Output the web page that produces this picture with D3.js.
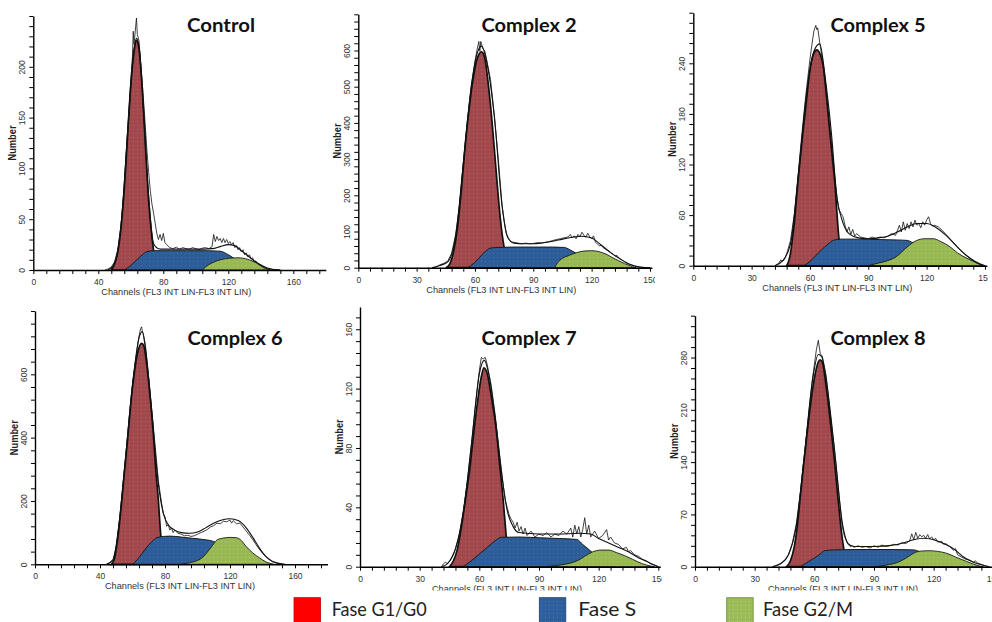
<!DOCTYPE html>
<html><head><meta charset="utf-8">
<script src="https://cdn.jsdelivr.net/npm/d3@7"></script>
<style>body{margin:0;background:#fff} svg{display:block}</style>
</head><body><svg id="c" width="992" height="622"></svg>
<script>
// ---------------- DATA ----------------
const titles = ["Control", "Complex 2", "Complex 5", "Complex 6", "Complex 7", "Complex 8"];
const legendLabels = ["Fase G1/G0", "Fase S", "Fase G2/M"];
const xAxisLabel = "Channels (FL3 INT LIN-FL3 INT LIN)";
const yAxisLabel = "Number";

const xMajorTicks = [[0,40,80,120,160],[0,30,60,90,120,150],[0,30,60,90,120,150],[0,40,80,120,160],[0,30,60,90,120,150],[0,30,60,90,120,150]];
const yMajorTicks = [[0,50,100,150,200],[0,100,200,300,400,500,600],[0,60,120,180,240],[0,200,400,600],[0,40,80,120,160],[0,70,140,210,280]];
const xMinorStep = [8,6,6,8,6,6];
const yMinorStep = [10,20,12,40,8,14];
const xMax = [180,151,151,180,151,152];
const yMax = [250,700,300,800,175,336];

// Control  [channel, count]
const ctrlG1 = [[48,0],[50,6],[52,18],[54,42],[56,80],[58,132],[60,182],[62,215],[63.5,226],[65,218],[67,180],[69,122],[71,68],[73,32],[75,10],[77,0]];
const ctrlS  = [[56,0],[58,2],[61,6],[64,10.5],[67,15],[70,18],[74,19],[85,19],[95,19],[105,19],[115,18.5],[120,15],[123,12],[126,9.5],[130,6],[135,2],[140,0]];
const ctrlG2 = [[104,0],[106,3],[110,7],[115,10],[120,11.5],[126,12],[132,10.5],[136,8],[140,5],[144,1],[146,0]];
const ctrlRaw = [[44,0],[46,1],[48,3],[50,8],[52,20],[54,44],[56,82],[58,135],[60,186],[61,210],[61.5,235],[62,222],[63,240],[63.5,248],[64,232],[65,226],[66,205],[67,185],[68,163],[69,140],[70,116],[71,96],[72,78],[73,65],[74,56],[75,46],[76,36],[77,30],[78,35],[79,29],[80,36],[81,27],[82,25],[84,22],[86,21],[88,22.5],[90,20.5],[92,22],[94,21],[96,20.5],[98,22],[100,21],[102,20],[104,21.5],[106,22],[108,21],[110,23],[111,35],[112,28],[113,33],[114,29],[115,31],[116,27],[117,31],[118,27],[119,30],[120,26],[121,28],[122,25],[123,27],[124,22],[125,24],[126,20],[127,22],[128,18],[129,20],[130,15],[131,17],[132,13],[133,15],[134,11],[135,12],[136,8],[137,9],[138,6],[140,4],[142,2],[144,1],[148,0.5],[152,0]];
const ctrlFit = [[46,0],[50,6],[54,44],[58,134],[62,218],[63.5,228],[65,221],[68,152],[71,72],[74,26],[77,21],[80,20.5],[90,20.5],[100,20.5],[110,21],[115,23],[120,25],[124,24],[128,19],[132,14],[136,9],[140,5],[144,2],[148,0.5],[152,0]];

// Complex 2
const c2G1 = [[45,0],[47,10],[49,45],[51,110],[53,215],[55,340],[57,440],[59,520],[61,575],[63.4,596],[65,580],[67,500],[69,390],[71,260],[73,138],[75,56],[77,15],[79,0]];
const c2S  = [[56,0],[58,6],[60,15],[62,26],[64,38],[66,48],[68,54],[72,56],[80,57],[90,57],[100,57],[106,56],[108,52],[110,46],[112,40],[116,30],[120,20],[125,10],[130,3],[134,0]];
const c2G2 = [[101,0],[102,10],[104,22],[108,33],[112,41],[116,46],[120,47],[124,44],[128,36],[131,27],[134,19],[137,11],[140,5],[142,1],[143,0]];
const c2Raw = [[38,0],[40,2],[42,8],[44,12],[46,18],[48,40],[50,90],[52,170],[54,290],[56,400],[58,500],[60,570],[61,600],[62,625],[62.5,598],[63,625],[64,605],[65,600],[66,575],[68,520],[70,420],[72,300],[74,170],[75,130],[76,96],[77,84],[78,75],[79,71],[80,70],[82,68],[84,66],[86,68],[88,66],[90,67],[92,69],[94,68],[96,70],[98,72],[100,75],[102,78],[104,80],[106,83],[108,85],[109,92],[110,82],[111,88],[112,80],[113,92],[114,86],[115,98],[116,90],[117,84],[118,95],[119,86],[120,80],[121,88],[122,70],[123,66],[124,60],[125,62],[126,55],[127,52],[128,48],[129,46],[130,40],[131,38],[132,32],[133,34],[134,27],[135,24],[136,20],[137,16],[138,12],[140,8],[142,4],[144,2],[146,1],[150,0]];
const c2Fit = [[38,0],[42,6],[46,16],[50,85],[54,285],[58,495],[61,590],[63.4,612],[66,570],[70,415],[74,168],[77,82],[80,68],[85,66],[90,66],[95,69],[100,73],[105,79],[110,84],[115,87],[120,82],[125,62],[130,41],[135,23],[140,9],[145,2],[150,0]];

// Complex 5
const c5G1 = [[48,0],[49,5],[50,15],[51,32],[52,52],[53,78],[54,104],[56,150],[58,192],[60,232],[62,252],[63.5,256],[65,252],[67,234],[69,188],[71,140],[72,117],[73,92],[74,58],[75,30],[76,12],[77,0]];
const c5S  = [[57,0],[60,5],[63,12],[66,19],[69,25],[72,30],[76,31.5],[85,31.5],[95,31],[105,30.5],[110,30],[113,27],[116,22],[120,15],[125,8],[130,3],[135,0]];
const c5G2 = [[90,0],[95,3],[100,6],[104.6,11],[108,18],[112,26],[115,30],[119,32],[123.4,32],[127,29],[132,22.5],[136,15],[140.6,9],[145,4],[149,0]];
const c5Raw = [[42,0],[44,3],[45,7],[46,5],[47,8],[48,14],[50,30],[52,62],[54,110],[56,160],[58,205],[60,245],[61,262],[62,278],[63,285],[63.5,280],[64,282],[65,265],[66,250],[68,215],[70,170],[72,125],[73,100],[74,80],[75,66],[76,62],[77,58],[78,48],[79,40],[80,46],[81,37],[82,43],[83,35],[84,38],[86,34],[88,33],[90,32],[92,34],[94,32],[96,34],[98,33],[100,35],[102,38],[104,36],[106,48],[107,40],[108,52],[109,42],[110,50],[111,44],[112,52],[113,46],[114,54],[115,48],[116,50],[117,45],[118,52],[119,48],[120,54],[121,58],[122,50],[123,47],[124,48],[126,46],[128,42],[130,37],[132,32],[134,27],[136,22],[138,17],[140,13],[142,9],[144,6],[146,3],[148,1],[150,0]];
const c5Fit = [[42,0],[46,6],[50,26],[54,106],[58,200],[62,254],[65,263],[68,220],[71,158],[74,78],[76,58],[78,45],[80,38],[85,33],[90,32],[95,33],[100,35],[105,40],[110,46],[115,50],[120,50],[125,45],[130,36],[135,24],[140,13],[145,5],[150,0]];

// Complex 6
const c6G1 = [[47,0],[49,20],[51,85],[53,180],[55,290],[57,395],[59,510],[61,600],[63,665],[65.6,698],[67,690],[69,620],[71,520],[72.8,414],[74,320],[75.9,203],[77.3,98],[78.5,40],[80,0]];
const c6S  = [[60,0],[63,15],[66,35],[69,55],[72,72],[75,84],[79,88],[83,89],[90,86],[97,82],[104,78],[110,72],[114,62],[118,48],[122,32],[127,16],[132,5],[136,0]];
const c6G2 = [[90,0],[95,5],[100,12],[103.6,24],[107,45],[110,65],[112,77],[116,83],[120,85],[124,84],[127,75],[130,56],[134,36],[138.5,19],[142,8],[146,1],[147,0]];
const c6Raw = [[44,0],[46,4],[48,15],[50,55],[52,140],[54,245],[56,352],[58,465],[60,570],[62,650],[64,720],[65,745],[65.6,750],[66,738],[67,720],[68,690],[70,590],[72,480],[74,370],[76,260],[78,190],[79,160],[80,150],[81,120],[82,125],[83,108],[84,115],[85,100],[86,108],[88,98],[90,95],[92,90],[94,92],[96,88],[98,90],[100,95],[102,100],[104,104],[106,110],[108,118],[110,122],[112,130],[114,128],[116,136],[118,134],[120,140],[121,130],[122,138],[124,128],[126,130],[128,118],[130,105],[132,92],[134,78],[136,62],[138,48],[140,35],[142,25],[144,15],[146,8],[148,4],[150,2],[153,0]];
const c6Fit = [[44,0],[48,14],[52,140],[56,350],[60,565],[64,715],[66,735],[68,680],[72,470],[76,250],[79,160],[82,125],[86,108],[90,100],[95,98],[100,102],[105,115],[110,130],[115,140],[120,144],[125,138],[130,115],[134,85],[138,52],[142,25],[146,10],[150,3],[154,0]];

// Complex 7
const c7G1 = [[45,0],[47,4],[49,12],[51,27],[53,45],[55.3,67],[57,88],[59,110],[61,128],[62.3,134],[64,130],[66,115],[68.7,90],[70,72],[72,45],[73.4,22.5],[74.5,8],[75.5,0]];
const c7S  = [[52,0],[56,4],[60,8.5],[64,13],[68,17.5],[71,19.8],[80,20],[90,19.5],[100,19],[109,18.4],[112,15],[115.6,11],[120,6],[125,2],[128,0]];
const c7G2 = [[92,0],[100,1],[106,2.5],[110,4.5],[113,7],[117,10],[121,11.2],[125,11.2],[129,9.5],[133,7.5],[137,5],[142,2],[146,0.5],[148,0]];
const c7Raw = [[41,0],[42,2],[43,3],[44,2],[45,4],[46,6],[48,12],[50,22],[52,38],[54,58],[56,82],[58,108],[60,132],[61,141],[62,140],[63,141],[64,136],[66,122],[68,102],[70,78],[72,55],[73,45],[74,40],[75,35],[76,32],[77,30],[78,26],[79,30],[80,24],[81,27],[82,22],[83,26],[84,21],[86,24],[88,20],[90,22],[92,21],[94,23],[96,20],[98,22],[100,21],[102,24],[104,22],[106,26],[107,20],[108,28],[109,22],[110,27],[111,20],[112,25],[113,33],[114,22],[115,28],[116,20],[118,24],[120,19],[122,21],[124,25],[125,18],[126,20],[128,16],[130,15],[132,12],[134,13],[135,10],[136,11],[138,8],[140,7],[142,5],[144,4],[146,2],[148,1],[150,0]];
const c7Fit = [[41,0],[44,2],[48,12],[52,37],[56,82],[60,130],[62.5,139],[65,128],[68,100],[71,65],[74,38],[77,27],[80,23],[90,22],[100,22],[110,22.5],[116,22],[120,19],[125,16],[130,13],[135,10],[140,6],[145,3],[150,0]];

// Complex 8
const c8G1 = [[46,0],[48,8],[50,28],[51,45],[53,95],[54.5,134],[56,170],[58,215],[60,252],[62,274],[62.8,277],[64,274],[66,240],[68.7,178],[70,145],[72,89],[73.7,45],[75,20],[76,0]];
const c8S  = [[53,0],[56,5],[59,10],[62,15],[65.4,21.5],[70,22.5],[80,23],[90,23],[100,23],[110,22.5],[113,20],[117,15],[121,9],[125,4],[130,0]];
const c8G2 = [[90,0],[96,2],[103,7],[107,13],[111,19.5],[114,21],[118,21.4],[122,20.5],[126.5,18],[131,13],[136.6,7],[140,3.5],[143,1],[145,0]];
const c8Raw = [[39,0],[41,2],[43,4],[45,8],[47,16],[49,32],[51,58],[53,100],[55,150],[57,200],[59,250],[61,290],[62,303],[63,285],[64,282],[66,255],[68,205],[70,160],[72,108],[73,80],[74,55],[75,42],[76,35],[77,30],[78,27],[79,28],[80,26],[82,28],[84,26],[86,27],[88,25],[90,28],[92,26],[94,29],[96,27],[98,28],[100,30],[102,29],[104,32],[106,31],[108,35],[109,44],[110,36],[111,46],[112,38],[113,43],[114,40],[115,42],[116,38],[117,43],[118,37],[119,40],[120,36],[121,38],[122,33],[124,34],[125,30],[126,31],[128,27],[130,22],[131,24],[132,16],[134,13],[136,10],[138,9],[140,6],[141,8],[142,5],[144,3],[146,1],[148,0]];
const c8Fit = [[39,0],[43,4],[47,16],[51,56],[55,148],[59,248],[62,284],[63.7,281],[66,250],[70,160],[74,60],[77,31],[80,27],[90,27],[100,29],[105,32],[110,36],[115,38],[120,36],[125,31],[130,24],[135,13],[140,6],[145,2],[148,0]];

const panelData = [
  {g1: ctrlG1, s: ctrlS, g2: ctrlG2, raw: ctrlRaw, fit: ctrlFit},
  {g1: c2G1, s: c2S, g2: c2G2, raw: c2Raw, fit: c2Fit},
  {g1: c5G1, s: c5S, g2: c5G2, raw: c5Raw, fit: c5Fit},
  {g1: c6G1, s: c6S, g2: c6G2, raw: c6Raw, fit: c6Fit},
  {g1: c7G1, s: c7S, g2: c7G2, raw: c7Raw, fit: c7Fit},
  {g1: c8G1, s: c8S, g2: c8G2, raw: c8Raw, fit: c8Fit}
];

// ---------------- LAYOUT ----------------
const layout = [
  {ox:33.3, xr:325.8, oy:270,   yt:16,    clip:[0,330],   title:[221,31.5], lab:143},
  {ox:358.3,xr:651.9, oy:267.7, yt:14.3,  clip:[330,655], title:[529,31.5], lab:143},
  {ox:693.3,xr:986.9, oy:265.7, yt:12.7,  clip:[660,988], title:[878,31.5], lab:144},
  {ox:35,   xr:327.5, oy:564.3, yt:311,   clip:[0,330],   title:[235,345],  lab:145},
  {ox:360,  xr:660.3, oy:566.7, yt:307,   clip:[330,662], title:[529,345],  lab:147},
  {ox:695,  xr:997.3, oy:566.7, yt:315.7, clip:[660,992], title:[878,345],  lab:148}
];
const smallFont = "'Liberation Sans Narrow','Arial Narrow','Liberation Sans',Arial,sans-serif";
const titleFont = "Lato,'Open Sans',sans-serif";

const svg = d3.select("#c");
svg.append("rect").attr("width",992).attr("height",622).attr("fill","#fff");
const defs = svg.append("defs");
function dotPattern(id, base, dot) {
  const p = defs.append("pattern").attr("id", id).attr("width", 4).attr("height", 4).attr("patternUnits", "userSpaceOnUse");
  p.append("rect").attr("width", 4).attr("height", 4).attr("fill", base);
  p.append("rect").attr("x", 1).attr("y", 1).attr("width", 1).attr("height", 1).attr("fill", dot);
}
dotPattern("pRed", "#a0484b", "#b86468");
dotPattern("pBlue", "#2d5d98", "#4573ab");
dotPattern("pGreen", "#97b853", "#b0cd74");
dotPattern("pBlueL", "#2e5e9c", "#4a78b0");
dotPattern("pGreenL", "#9bbb59", "#b5d27c");

layout.forEach((L, i) => {
  defs.append("clipPath").attr("id", "clip" + i)
    .append("rect").attr("x", L.clip[0]).attr("y", i < 3 ? 0 : 300).attr("width", L.clip[1] - L.clip[0]).attr("height", 300);
});

panelData.forEach((P, i) => {
  const L = layout[i];
  const x = d3.scaleLinear().domain([0, xMax[i]]).range([L.ox, L.xr]);
  const y = d3.scaleLinear().domain([0, yMax[i]]).range([L.oy, L.yt]);
  const g = svg.append("g").attr("clip-path", `url(#clip${i})`);

  const area = d3.area().x(d => x(d[0])).y0(y(0)).y1(d => y(d[1])).curve(d3.curveMonotoneX);
  const smooth = d3.line().x(d => x(d[0])).y(d => y(d[1])).curve(d3.curveMonotoneX);
  const jag = d3.line().x(d => x(d[0])).y(d => y(d[1]));

  g.append("path").datum(P.g1).attr("d", area).attr("fill", "url(#pRed)").attr("stroke", "#111").attr("stroke-width", 1.7);
  g.append("path").datum(P.s).attr("d", area).attr("fill", "url(#pBlue)").attr("stroke", "#1a1a1a").attr("stroke-width", 1);
  g.append("path").datum(P.g2).attr("d", area).attr("fill", "url(#pGreen)").attr("stroke", "#1a1a1a").attr("stroke-width", 0.9);
  g.append("path").datum(P.fit).attr("d", smooth).attr("fill", "none").attr("stroke", "#111").attr("stroke-width", 1.1);
  g.append("path").datum(P.raw).attr("d", jag).attr("fill", "none").attr("stroke", "#111").attr("stroke-width", 0.8);

  // axes
  const xMinors = d3.range(0, xMax[i] + 0.001, xMinorStep[i]);
  const yMinors = d3.range(0, yMax[i] + 0.001, yMinorStep[i]);
  const xa = g.append("g").attr("transform", `translate(0,${L.oy})`)
    .call(d3.axisBottom(x).tickValues(xMinors).tickSize(4).tickSizeOuter(0)
      .tickFormat(d => xMajorTicks[i].includes(d) ? d : ""));
  xa.select(".domain").attr("stroke", "#000").attr("stroke-width", 1.4);
  xa.selectAll(".tick line").attr("stroke", "#000").attr("stroke-width", 1);
  xa.selectAll(".tick text").attr("y", 9).attr("dy", "0.71em")
    .attr("font-family", smallFont).attr("font-size", 8.5).attr("fill", "#333");

  const ya = g.append("g").attr("transform", `translate(${L.ox},0)`)
    .call(d3.axisLeft(y).tickValues(yMinors).tickSize(4).tickSizeOuter(0)
      .tickFormat(d => yMajorTicks[i].includes(d) ? d : ""));
  ya.select(".domain").attr("stroke", "#000").attr("stroke-width", 1.4);
  ya.selectAll(".tick line").attr("stroke", "#000").attr("stroke-width", 1);
  ya.selectAll(".tick text").attr("transform", "rotate(-90)").attr("x", 0).attr("y", -8.3).attr("dy", null)
    .attr("text-anchor", "middle").attr("font-family", smallFont).attr("font-size", 8.5).attr("fill", "#333");

  // axis titles
  g.append("text").attr("x", L.ox + L.lab).attr("y", L.oy + 25).attr("text-anchor", "middle")
    .attr("font-family", smallFont).attr("font-size", 9.5).attr("fill", "#333")
    .attr("textLength", 150).attr("lengthAdjust", "spacingAndGlyphs").text(xAxisLabel);
  const ny = (L.oy + L.yt) / 2;
  g.append("text").attr("transform", `translate(${L.ox - 17},${ny}) rotate(-90)`).attr("text-anchor", "middle")
    .attr("font-family", smallFont).attr("font-size", 10).attr("font-weight", "bold").attr("fill", "#222")
    .attr("textLength", 35).attr("lengthAdjust", "spacingAndGlyphs").text(yAxisLabel);

  // panel title
  svg.append("text").attr("x", L.title[0]).attr("y", L.title[1]).attr("text-anchor", "middle")
    .attr("font-family", titleFont).attr("font-weight", "bold").attr("font-size", 19).attr("fill", "#111")
    .attr("textLength", i === 0 ? 68 : 95).attr("lengthAdjust", "spacingAndGlyphs").text(titles[i]);
});

// cover strip under bottom row, then legend
svg.append("rect").attr("x", 0).attr("y", 590.5).attr("width", 992).attr("height", 32).attr("fill", "#fff");
const legendSw = [{x: 294, fill: "#ff0000", stroke: "#c00000"}, {x: 539.3, fill: "url(#pBlueL)", stroke: "#1f3f6a"}, {x: 726.7, fill: "url(#pGreenL)", stroke: "#6f8a3a"}];
const legendTx = [331.7, 578.3, 763];
const legendW = [95, 58, 90];
legendLabels.forEach((lab, k) => {
  svg.append("rect").attr("x", legendSw[k].x).attr("y", 597.7).attr("width", 26.5).attr("height", 27)
    .attr("fill", legendSw[k].fill).attr("stroke", legendSw[k].stroke).attr("stroke-width", 0.8);
  svg.append("text").attr("x", legendTx[k]).attr("y", 615.7).attr("font-family", titleFont).attr("font-size", 19)
    .attr("fill", "#222").attr("textLength", legendW[k]).attr("lengthAdjust", "spacingAndGlyphs").text(lab);
});
</script></body></html>
